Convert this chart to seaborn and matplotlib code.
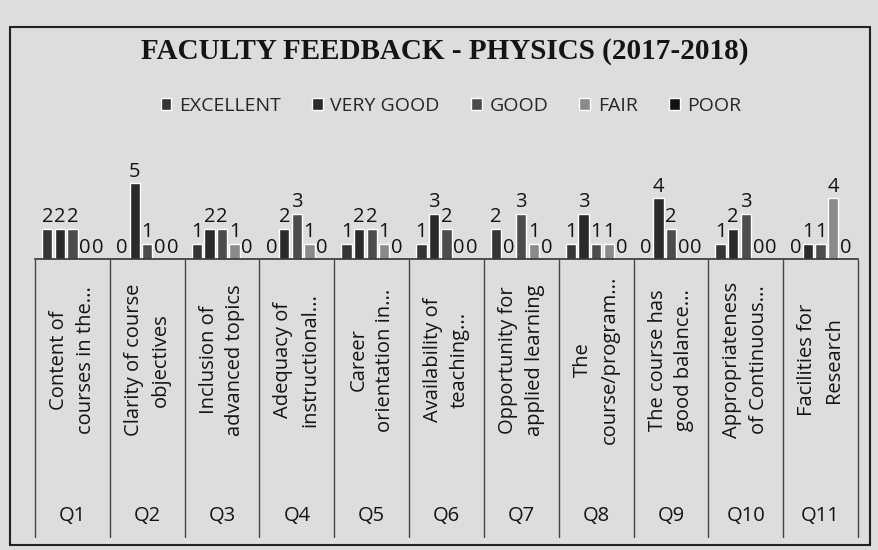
import matplotlib
matplotlib.use("Agg")
import matplotlib.pyplot as plt
import matplotlib.transforms as mtrans
import pandas as pd
import seaborn as sns
from matplotlib.lines import Line2D
from matplotlib.patches import Rectangle

# data
questions = ["Q1", "Q2", "Q3", "Q4", "Q5", "Q6", "Q7", "Q8", "Q9", "Q10", "Q11"]
items = [
    "Content of\ncourses in the...",
    "Clarity of course\nobjectives",
    "Inclusion of\nadvanced topics",
    "Adequacy of\ninstructional...",
    "Career\norientation in...",
    "Availability of\nteaching...",
    "Opportunity for\napplied learning",
    "The\ncourse/program...",
    "The course has\ngood balance...",
    "Appropriateness\nof Continuous...",
    "Facilities for\nResearch",
]
ratings = ["EXCELLENT", "VERY GOOD", "GOOD", "FAIR", "POOR"]
excellent = [2, 0, 1, 0, 1, 1, 2, 1, 0, 1, 0]
very_good = [2, 5, 2, 2, 2, 3, 0, 3, 4, 2, 1]
good = [2, 1, 2, 3, 2, 2, 3, 1, 2, 3, 1]
fair = [0, 0, 1, 1, 1, 0, 1, 1, 0, 0, 4]
poor = [0, 0, 0, 0, 0, 0, 0, 0, 0, 0, 0]
colors = ["#353535", "#2a2a2a", "#4c4c4c", "#8a8a8a", "#111111"]

BG = "#dcdddc"
FONT = "Open Sans"
INK = "#141414"

series = dict(zip(ratings, [excellent, very_good, good, fair, poor]))
rows = []
for r, vals in series.items():
    for q, v in zip(questions, vals):
        rows.append({"question": q, "rating": r, "count": v})
df = pd.DataFrame(rows)

sns.set_style("white")
plt.rcParams["font.family"] = [FONT, "DejaVu Sans"]

W, H = 879, 550
fig = plt.figure(figsize=(W / 100, H / 100), dpi=100, facecolor=BG)
ax = fig.add_axes([35 / W, 1 - 259 / H, (858 - 35) / W, 91 / H])
ax.set_facecolor("none")

sns.barplot(data=df, x="question", y="count", hue="rating", order=questions,
            hue_order=ratings, palette=colors, width=0.84, gap=0.18,
            saturation=1, legend=False, ax=ax)
for cont in ax.containers:
    ax.bar_label(cont, fontsize=14.5, padding=1, color=INK)

ax.set_xlim(-0.5, len(questions) - 0.5)
ax.set_ylim(0, 6)
ax.set_xticks([])
ax.set_yticks([])
ax.set_xlabel("")
ax.set_ylabel("")
for s in ["left", "right", "top"]:
    ax.spines[s].set_visible(False)
ax.spines["bottom"].set_color("#333333")
ax.spines["bottom"].set_linewidth(1.2)

# category table under the bars
tr = mtrans.blended_transform_factory(ax.transData, fig.transFigure)
for i in range(len(questions) + 1):
    ax.add_line(Line2D([i - 0.5, i - 0.5], [1 - 260 / H, 1 - 537 / H],
                       transform=tr, color="#444444", lw=1, clip_on=False))
for i, (q, lab) in enumerate(zip(questions, items)):
    ax.text(i, 1 - 360 / H, lab, transform=tr, rotation=90, ha="center",
            va="center", multialignment="center", fontsize=14.5,
            color=INK, linespacing=1.45)
    ax.text(i, 1 - 516 / H, q, transform=tr, ha="center", va="center",
            fontsize=14.5, color=INK)

fig.text(445 / W, 1 - 52 / H, "FACULTY FEEDBACK - PHYSICS (2017-2018)",
         family="Liberation Serif", fontweight="bold", fontsize=21,
         ha="center", va="center", color=INK)

handles = [Rectangle((0, 0), 1, 1, facecolor=c) for c in colors]
fig.legend(handles, ratings, loc="center", bbox_to_anchor=(451 / W, 1 - 106 / H),
           ncol=5, frameon=False, fontsize=14, handlelength=0.55,
           handleheight=0.55, handletextpad=0.4, columnspacing=1.6)

fig.add_artist(Rectangle((10 / W, 1 - 545 / H), 860 / W, 518 / H,
                         transform=fig.transFigure, fill=False,
                         edgecolor="#222222", lw=1.5))

fig.savefig("out.png", dpi=100, facecolor=BG)
